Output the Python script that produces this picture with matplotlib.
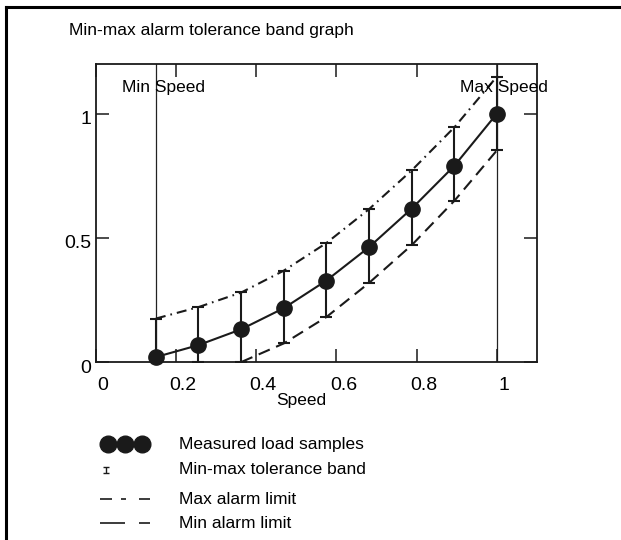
import matplotlib
matplotlib.use('Agg')
import matplotlib.pyplot as plt
import matplotlib.transforms as mtrans
from matplotlib.lines import Line2D

plt.rcParams['font.family'] = ['Liberation Sans', 'DejaVu Sans']

# measured load samples
speed = [0.15, 0.256, 0.363, 0.469, 0.575, 0.681, 0.788, 0.894, 1.0]
load = [0.02, 0.068, 0.132, 0.217, 0.328, 0.462, 0.618, 0.79, 1.0]
band_max = [0.175, 0.221, 0.28, 0.368, 0.479, 0.615, 0.772, 0.945, 1.149]
band_min = [0.0, 0.0, 0.0, 0.075, 0.181, 0.318, 0.471, 0.649, 0.852]
min_limit_speed = [0.363, 0.469, 0.575, 0.681, 0.788, 0.894, 1.0]
min_limit = [0.0, 0.075, 0.181, 0.318, 0.471, 0.649, 0.852]
min_speed = 0.15
max_speed = 1.0

xticks = [0, 0.2, 0.4, 0.6, 0.8, 1]
xticklabels = ['0', '0.2', '0.4', '0.6', '0.8', '1']
yticks = [0, 0.5, 1]
yticklabels = ['0', '0.5', '1']

legend_labels = ['Measured load samples', 'Min-max tolerance band',
                 'Max alarm limit', 'Min alarm limit']

fig = plt.figure(figsize=(6.21, 5.4), dpi=100)
ax = fig.add_axes([0.1541, 0.3296, 0.7106, 0.5519])

ax.axvline(min_speed, color='#222222', lw=0.9, zorder=1)
ax.axvline(max_speed, color='#222222', lw=0.9, zorder=1)

lo = [l - m for l, m in zip(load, band_min)]
hi = [m - l for l, m in zip(load, band_max)]
ax.errorbar(speed, load, yerr=[lo, hi], fmt='none', ecolor='#1a1a1a',
            elinewidth=1.5, capsize=4.3, capthick=1.5, zorder=2)
ax.plot(speed, load, '-', color='#1a1a1a', lw=1.5, marker='o', ms=11,
        zorder=3, clip_on=False)
ax.plot(speed, band_max, color='#1a1a1a', lw=1.5, dashes=(4.8, 2.4, 0.8, 2.4),
        zorder=2)
ax.plot(min_limit_speed, min_limit, color='#1a1a1a', lw=1.5, dashes=(5.8, 3.3),
        zorder=2)

ax.text(0.065, 1.105, 'Min Speed', fontsize=12.5, va='center', ha='left')
ax.text(0.908, 1.105, 'Max Speed', fontsize=12.5, va='center', ha='left')

ax.set_xlim(0, 1.1)
ax.set_ylim(0, 1.2)
ax.set_xticks(xticks)
ax.set_xticklabels(xticklabels, fontsize=14)
ax.set_yticks(yticks)
ax.set_yticklabels(yticklabels, fontsize=14)
ax.tick_params(direction='in', length=9.5, width=1.1, top=True, right=True,
               color='#1a1a1a')
ax.tick_params(axis='x', pad=11)
ax.tick_params(axis='y', pad=3)
for lab in ax.get_xticklabels():
    lab.set_transform(lab.get_transform() +
                      mtrans.ScaledTranslation(7 / 100, 0, fig.dpi_scale_trans))
for lab in ax.get_yticklabels():
    lab.set_transform(lab.get_transform() +
                      mtrans.ScaledTranslation(0, -4 / 100, fig.dpi_scale_trans))
for s in ax.spines.values():
    s.set_linewidth(1.3)
    s.set_color('#1a1a1a')

fig.text(301 / 621, 1 - 401 / 540, 'Speed', fontsize=12.5, ha='center', va='center')
fig.text(69 / 621, 1 - 30 / 540, 'Min-max alarm tolerance band graph',
         fontsize=12.5, ha='left', va='center')

# figure frame (left and top edges)
fig.add_artist(Line2D([6 / 621, 6 / 621], [0, 1 - 7 / 540], color='black',
                      lw=2.2, transform=fig.transFigure))
fig.add_artist(Line2D([6 / 621, 1], [1 - 7 / 540, 1 - 7 / 540], color='black',
                      lw=2.2, transform=fig.transFigure))

# legend drawn by hand
lg = fig.add_axes([0, 0, 1, 1])
lg.set_xlim(0, 621)
lg.set_ylim(540, 0)
lg.axis('off')
rows = [444, 470, 499, 523]
lg.plot([108, 125, 142], [rows[0]] * 3, 'o', color='#1a1a1a', ms=12)
lg.errorbar([106], [rows[1]], yerr=[[3], [3]], fmt='none', ecolor='#1a1a1a',
            elinewidth=1.0, capsize=2.2, capthick=1.0)
lg.plot([100, 150], [rows[2]] * 2, color='#1a1a1a', lw=1.2,
        dashes=(7.2, 5.4, 3, 7.8))
lg.plot([100, 150], [rows[3]] * 2, color='#1a1a1a', lw=1.2, dashes=(15, 8.4))
for r, t in zip(rows, legend_labels):
    lg.text(179, r, t, fontsize=12.5, va='center', ha='left')

fig.savefig('out.png', dpi=100)
